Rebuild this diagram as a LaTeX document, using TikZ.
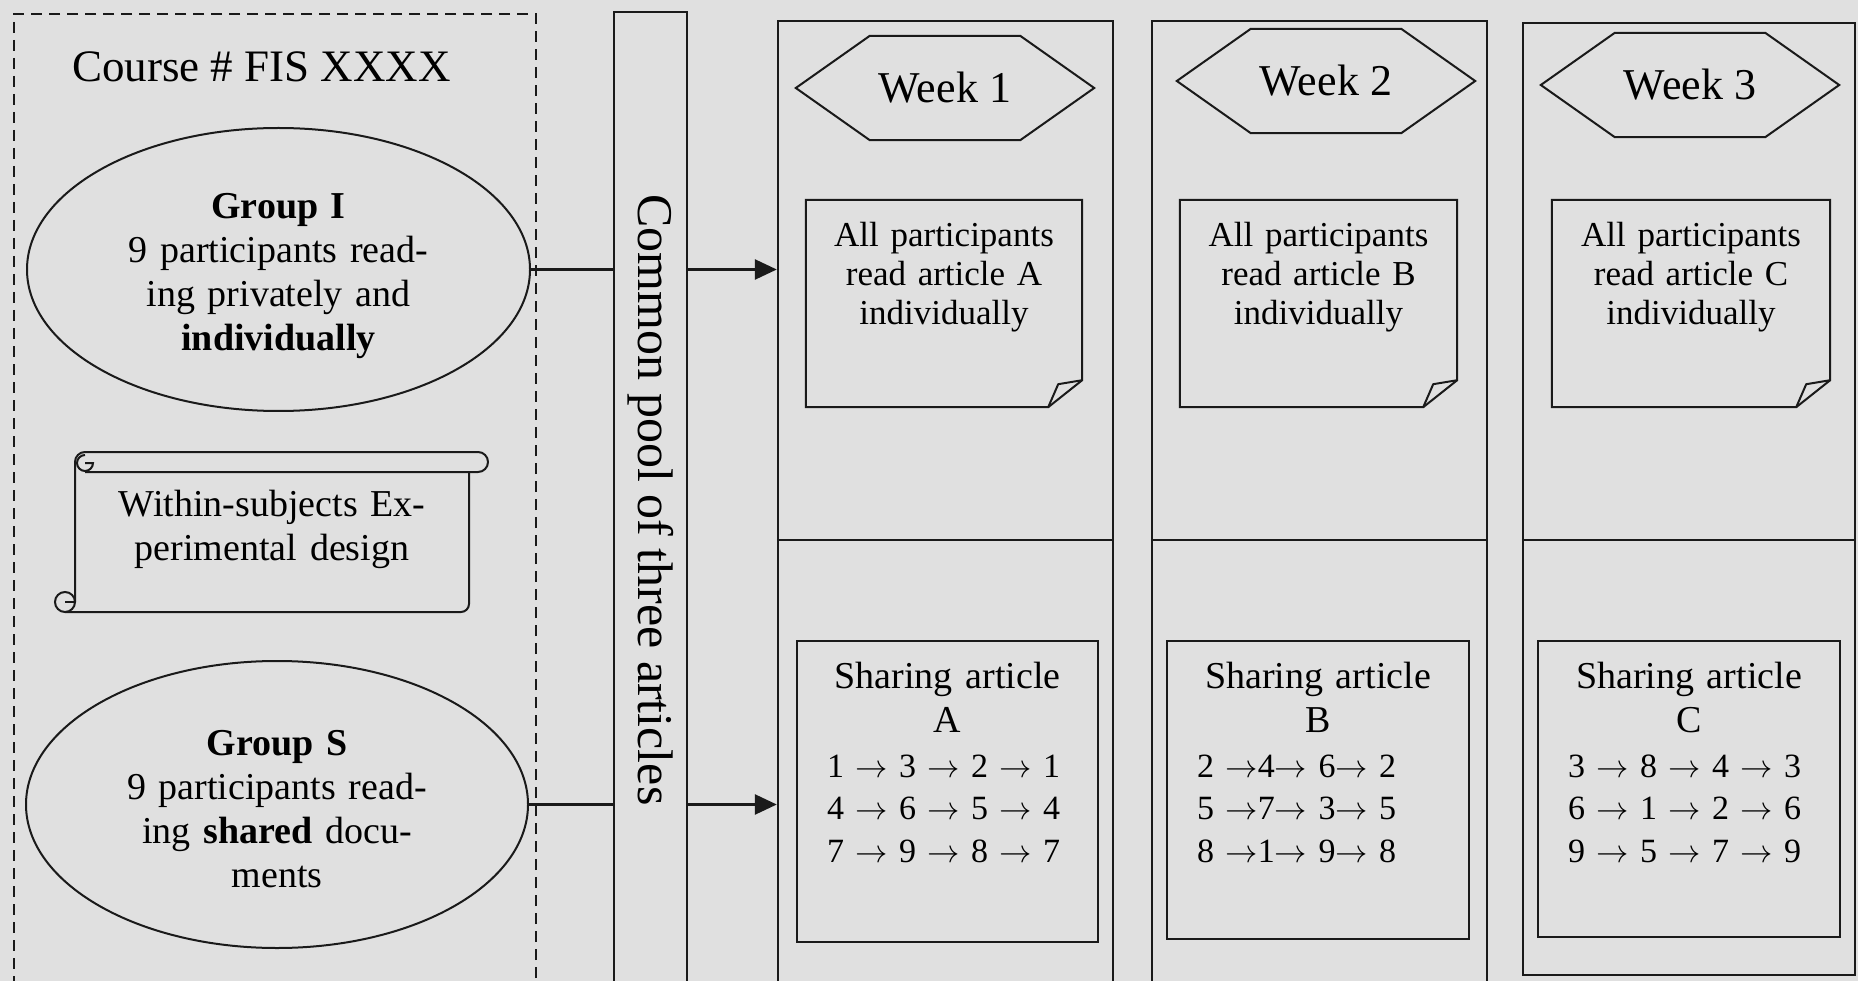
\documentclass[tikz,border=0pt]{standalone}
\usepackage{fontspec}
\setmainfont{Liberation Serif}
\usetikzlibrary{shapes.geometric,arrows.meta}
\definecolor{bg}{HTML}{E0E0E0}
\definecolor{ink}{HTML}{1A1A1A}
\newcommand{\ra}{\scalebox{1.3}{$\rightarrow$}}
\begin{document}
\begin{tikzpicture}[x=1pt,y=-1pt,
  frame/.style={draw=ink, line width=2.4pt, inner sep=0pt},
  thin/.style={draw=ink, line width=2pt},
  dashbox/.style={draw=ink, line width=2pt, dash pattern=on 11pt off 7pt, inner sep=0pt},
  grp/.style={ellipse, draw=ink, line width=2pt, inner sep=0pt},
  grptext/.style={anchor=base, align=center, text width=400pt, inner sep=0pt, font=\fontsize{38}{44}\selectfont},
  hexbox/.style={inner sep=0pt, minimum width=298pt, minimum height=104pt, font=\fontsize{44}{50}\selectfont},
  notebox/.style={inner sep=0pt, minimum height=207pt},
  notetext/.style={anchor=base, align=center, text width=270pt, inner sep=0pt, font=\fontsize{35}{39}\selectfont},
  titletext/.style={anchor=base, align=center, text width=290pt, inner sep=0pt, font=\fontsize{38}{44.5}\selectfont},
  rowtext/.style={anchor=base west, align=left, text width=265pt, inner sep=0pt, font=\fontsize{34}{42.5}\selectfont},
  conn/.style={draw=ink, line width=2.6pt},
  tip/.style={-{Triangle[length=22pt,width=20pt]}}
]
\useasboundingbox (0,0) rectangle (1858,981);
\fill[bg] (0,0) rectangle (1858,981);
\clip (0,0) rectangle (1858,981);

% left dashed course box
\node[dashbox, minimum width=522pt, minimum height=982pt] (course) at (275,505) {};
\node[anchor=base, inner sep=0pt, font=\fontsize{45}{50}\selectfont] (coursetitle) at (261.5,82) {Course \# FIS XXXX};

% groups
\node[grp, minimum width=503pt, minimum height=283pt] (gI) at (278.5,269.5) {};
\node[grptext] (gItext) at (278.5,219)
  {{\bfseries Group I}\\9 participants read-\\ing privately and\\{\bfseries individually}};
\node[grp, minimum width=502pt, minimum height=287pt] (gS) at (277,804.5) {};
\node[grptext] (gStext) at (277,755)
  {{\bfseries Group S}\\9 participants read-\\ing {\bfseries shared} docu-\\ments};

% scroll
\draw[thin, line join=round] (85,452) -- (478,452) arc[start angle=-90, end angle=90, radius=10] -- (85,472);
\draw[thin] (75,602) -- (75,462) arc[start angle=180, end angle=270, radius=10];
\draw[thin] (85,463) -- (93,463) arc[start angle=0, end angle=270, radius=8];
\draw[thin] (469,472) -- (469,604) arc[start angle=0, end angle=90, radius=8] -- (65,612);
\draw[thin] (65,602) circle[radius=10];
\draw[thin] (65,602) -- (75,602);
\node[anchor=base, align=center, text width=400pt, inner sep=0pt, font=\fontsize{38}{44}\selectfont] (scroll) at (272,516)
  {Within-subjects Ex-\\perimental design};

% common pool
\node[frame, minimum width=73pt, minimum height=976pt] (pool) at (650.5,500)
  {\rotatebox{-90}{\fontsize{50}{50}\selectfont Common pool of three articles}};

% week columns
\node[frame, minimum width=335pt, minimum height=974pt] (c1) at (945.5,508) {};
\node[frame, minimum width=335pt, minimum height=974pt] (c2) at (1319.5,508) {};
\node[frame, minimum width=332pt, minimum height=952pt] (c3) at (1689,499) {};
\coordinate (div) at (0,540);
\foreach \c in {c1,c2,c3}{
  \draw[frame] (\c.west |- div) -- (\c.east |- div);
}

% week hexagons
\node[hexbox] (h1) at (945,88) {Week 1};
\node[hexbox] (h2) at (1326,81) {Week 2};
\node[hexbox] (h3) at (1690,85) {Week 3};
\foreach \h in {h1,h2,h3}{
  \draw[thin, line join=miter] (\h.west) -- ([xshift=74pt]\h.north west) -- ([xshift=-74pt]\h.north east)
    -- (\h.east) -- ([xshift=-74pt]\h.south east) -- ([xshift=74pt]\h.south west) -- cycle;
}

% notes (dog-eared)
\node[notebox, minimum width=276pt] (n1) at (944,303.5) {};
\node[notebox, minimum width=277pt] (n2) at (1318.5,303.5) {};
\node[notebox, minimum width=278pt] (n3) at (1691,303.5) {};
\foreach \n in {n1,n2,n3}{
  \draw[thin] (\n.north west) -- (\n.north east) -- ([yshift=27pt]\n.south east)
    -- ([xshift=-34pt]\n.south east) -- (\n.south west) -- cycle;
  \draw[thin, line join=round] ([yshift=27pt]\n.south east) -- ([xshift=-24pt,yshift=23pt]\n.south east)
    -- ([xshift=-34pt]\n.south east);
}
\node[notetext] (t1) at (944,247) {All participants\\read article A\\individually};
\node[notetext] (t2) at (1318.5,247) {All participants\\read article B\\individually};
\node[notetext] (t3) at (1691,247) {All participants\\read article C\\individually};

% sharing boxes
\node[frame, minimum width=301pt, minimum height=301pt] (s1) at (947.5,791.5) {};
\node[frame, minimum width=302pt, minimum height=298pt] (s2) at (1318,790) {};
\node[frame, minimum width=302pt, minimum height=296pt] (s3) at (1689,789) {};
\node[titletext] (st1) at (947.5,688) {Sharing article\\A};
\node[titletext] (st2) at (1318,688) {Sharing article\\B};
\node[titletext] (st3) at (1689,688) {Sharing article\\C};
\node[rowtext] (r1) at (827,777) {1 \ra{} 3 \ra{} 2 \ra{} 1\\4 \ra{} 6 \ra{} 5 \ra{} 4\\7 \ra{} 9 \ra{} 8 \ra{} 7};
\node[rowtext] (r2) at (1197,777) {2 \ra{}4\ra{} 6\ra{} 2\\5 \ra{}7\ra{} 3\ra{} 5\\8 \ra{}1\ra{} 9\ra{} 8};
\node[rowtext] (r3) at (1568,777) {3 \ra{} 8 \ra{} 4 \ra{} 3\\6 \ra{} 1 \ra{} 2 \ra{} 6\\9 \ra{} 5 \ra{} 7 \ra{} 9};

% connectors
\draw[conn] (gI.east) -- (gI.east -| pool.west);
\draw[conn, tip] (gI.east -| pool.east) -- (gI.east -| c1.west);
\draw[conn] (gS.east) -- (gS.east -| pool.west);
\draw[conn, tip] (gS.east -| pool.east) -- (gS.east -| c1.west);
\end{tikzpicture}
\end{document}
